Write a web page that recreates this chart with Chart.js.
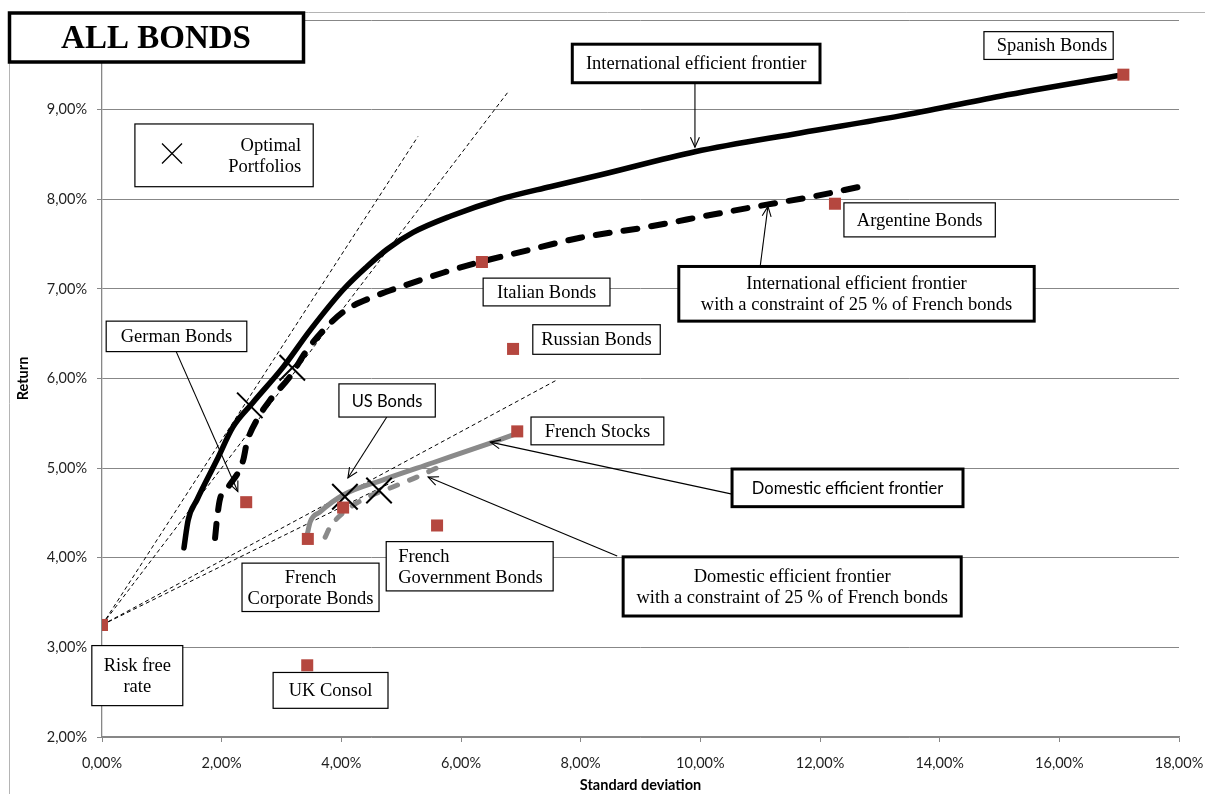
<!DOCTYPE html>
<html><head><meta charset="utf-8">
<script src="https://cdn.jsdelivr.net/npm/chart.js@4.4.1/dist/chart.umd.min.js"></script>
<style>html,body{margin:0;padding:0;background:#fff;}canvas{display:block;}</style>
</head><body>
<canvas id="c" width="1205" height="794"></canvas>
<script>
// ---------- DATA (standard deviation %, return %) ----------
const assetNames  = ['Risk free rate','German Bonds','French Corporate Bonds','US Bonds','French Government Bonds','UK Consol','French Stocks','Russian Bonds','Italian Bonds','Argentine Bonds','Spanish Bonds'];
const assetRisk   = [0.00, 2.41, 3.44, 4.03, 5.60, 3.43, 6.94, 6.87, 6.35, 12.25, 17.07];
const assetReturn = [3.25, 4.62, 4.21, 4.56, 4.36, 2.80, 5.41, 6.33, 7.30, 7.95, 9.39];

const intlRisk   = [1.37,1.44,1.59,1.92,2.19,2.52,3.03,3.48,4.03,4.43,4.76,5.20,5.82,6.65,7.49,8.32,9.91,11.67,13.34,15.01,17.07];
const intlReturn = [4.11,4.42,4.65,5.09,5.46,5.73,6.13,6.54,6.99,7.25,7.44,7.63,7.81,8.00,8.14,8.27,8.53,8.74,8.93,9.15,9.39];

const intlConsRisk   = [1.89,1.92,1.97,2.11,2.36,2.42,2.59,2.81,3.14,3.43,3.76,4.09,4.53,4.98,5.70,6.32,6.99,7.99,9.11,10.21,11.11,11.88,12.67];
const intlConsReturn = [4.22,4.42,4.65,4.79,5.09,5.28,5.54,5.76,6.02,6.32,6.58,6.77,6.91,7.02,7.18,7.30,7.41,7.57,7.69,7.83,7.94,8.03,8.14];

const domRisk   = [3.43,3.48,3.64,4.03,4.70,5.53,6.49,6.87];
const domReturn = [4.26,4.40,4.51,4.70,4.87,5.06,5.28,5.37];

const domConsRisk   = [3.73,3.81,4.03,4.36,4.86,5.26,5.62];
const domConsReturn = [4.23,4.34,4.50,4.65,4.79,4.90,5.01];

// Tangent (capital market) lines from the risk-free asset
const tangentIntlA = {risk:[0.00,5.28], ret:[3.25,8.70]};
const tangentIntlB = {risk:[0.00,6.79], ret:[3.25,9.20]};
const tangentDomA  = {risk:[0.00,7.62], ret:[3.25,5.99]};
const tangentDomB  = {risk:[0.00,4.93], ret:[3.25,4.87]};

const optRisk   = [2.47, 3.18, 4.06, 4.63];
const optReturn = [5.70, 6.12, 4.68, 4.75];

const xTicks = [0,2,4,6,8,10,12,14,16,18];
const yTicks = [2,3,4,5,6,7,8,9,10];

// ---------- helpers ----------
const pts = (xs, ys) => xs.map((v,i)=>({x:v, y:ys[i]}));
const pct = v => v.toFixed(2).replace('.', ',') + '%';
const SERIF = '"Liberation Serif","Times New Roman",serif';
const SANS  = 'Lato,"Open Sans",sans-serif';

// annotation boxes in data coordinates [left, top, right, bottom]
const annotations = [
  {text:['International efficient frontier'], box:[7.86,9.73,12.00,9.30], border:3, arrow:[9.91,9.30,9.91,8.58]},
  {text:['Spanish Bonds'], box:[14.74,9.87,16.90,9.56], align:'right', pad:6},
  {text:['Optimal','Portfolios'], box:[0.55,8.84,3.53,8.14], align:'right', pad:12, icon:[1.17,8.51]},
  {text:['Argentine Bonds'], box:[12.40,7.96,14.93,7.58]},
  {text:['International efficient frontier','with a constraint of 25 % of French bonds'], box:[9.64,7.25,15.58,6.64], border:3, arrow:[11.00,7.25,11.13,7.92]},
  {text:['Italian Bonds'], box:[6.37,7.12,8.49,6.81]},
  {text:['Russian Bonds'], box:[7.20,6.60,9.33,6.27]},
  {text:['German Bonds'], box:[0.07,6.64,2.42,6.30], arrow:[1.24,6.30,2.27,4.74]},
  {text:['US Bonds'], box:[3.96,5.94,5.57,5.57], sans:true, arrow:[4.76,5.57,4.11,4.89]},
  {text:['French Stocks'], box:[7.17,5.57,9.39,5.26]},
  {text:['Domestic efficient frontier'], box:[10.53,4.99,14.39,4.57], border:3, sans:true, arrow:[10.53,4.71,6.49,5.29]},
  {text:['Domestic efficient frontier','with a constraint of 25 % of French bonds'], box:[8.71,4.01,14.36,3.35], border:3, arrow:[8.61,4.02,5.45,4.90]},
  {text:['French','Government Bonds'], box:[4.75,4.18,7.54,3.63], align:'left', pad:12},
  {text:['French','Corporate Bonds'], box:[2.34,3.94,4.63,3.40]},
  {text:['Risk free','rate'], box:[-0.17,3.02,1.35,2.35]},
  {text:['UK Consol'], box:[2.86,2.72,4.78,2.32]}
];

function drawArrow(ctx, x1, y1, x2, y2) {
  ctx.beginPath(); ctx.moveTo(x1,y1); ctx.lineTo(x2,y2); ctx.stroke();
  const a = Math.atan2(y2-y1, x2-x1), L = 11, s = 0.42;
  ctx.beginPath();
  ctx.moveTo(x2 - L*Math.cos(a-s), y2 - L*Math.sin(a-s));
  ctx.lineTo(x2, y2);
  ctx.lineTo(x2 - L*Math.cos(a+s), y2 - L*Math.sin(a+s));
  ctx.stroke();
}

const framePlugin = {
  id: 'frame',
  beforeDraw(chart) {
    const ctx = chart.ctx;
    ctx.save();
    ctx.fillStyle = '#fff';
    ctx.fillRect(0,0,chart.width,chart.height);
    ctx.strokeStyle = '#b4b4b4';
    ctx.lineWidth = 1;
    ctx.beginPath();
    ctx.moveTo(9.5, 800); ctx.lineTo(9.5, 12.5); ctx.lineTo(1210, 12.5);
    ctx.stroke();
    ctx.restore();
  },
  afterDraw(chart) {
    const ctx = chart.ctx, sx = chart.scales.x, sy = chart.scales.y;
    const X = v => sx.getPixelForValue(v), Y = v => sy.getPixelForValue(v);
    ctx.save();
    annotations.forEach(a => {
      const l = X(a.box[0]), t = Y(a.box[1]), r = X(a.box[2]), b = Y(a.box[3]);
      ctx.strokeStyle = '#000'; ctx.lineWidth = 1.1;
      if (a.arrow) drawArrow(ctx, X(a.arrow[0]), Y(a.arrow[1]), X(a.arrow[2]), Y(a.arrow[3]));
      ctx.fillStyle = '#fff';
      ctx.fillRect(l, t, r-l, b-t);
      ctx.lineWidth = a.border || 1.2;
      ctx.strokeRect(l, t, r-l, b-t);
      ctx.fillStyle = '#000';
      ctx.font = a.sans ? '16.5px ' + SANS : '18.5px ' + SERIF;
      ctx.textBaseline = 'middle';
      let tx;
      if (a.align === 'right') { ctx.textAlign = 'right'; tx = r - a.pad; }
      else if (a.align === 'left') { ctx.textAlign = 'left'; tx = l + a.pad; }
      else { ctx.textAlign = 'center'; tx = (l + r) / 2; }
      const lh = 21, cy = (t + b) / 2;
      a.text.forEach((s, i) => {
        ctx.fillText(s, tx, cy + (i - (a.text.length - 1) / 2) * lh + 1);
      });
      if (a.icon) {
        const ix = X(a.icon[0]), iy = Y(a.icon[1]);
        ctx.lineWidth = 1.3;
        ctx.beginPath();
        ctx.moveTo(ix-10, iy-10); ctx.lineTo(ix+10, iy+10);
        ctx.moveTo(ix+10, iy-10); ctx.lineTo(ix-10, iy+10);
        ctx.stroke();
      }
    });
    // title box
    ctx.fillStyle = '#fff';
    ctx.fillRect(9, 12, 295, 50);
    ctx.strokeStyle = '#000'; ctx.lineWidth = 3.5;
    ctx.strokeRect(9.5, 13, 294, 49);
    ctx.fillStyle = '#000';
    ctx.font = 'bold 33px ' + SERIF;
    ctx.textAlign = 'center'; ctx.textBaseline = 'middle';
    ctx.fillText('ALL BONDS', 156, 39);
    ctx.restore();
  }
};

const GRID = '#878787';
const tickFont = {family: SANS, size: 14.5};
const curve = {showLine:true, pointRadius:0, cubicInterpolationMode:'monotone', borderCapStyle:'round', borderJoinStyle:'round'};

new Chart(document.getElementById('c'), {
  type: 'scatter',
  data: {
    datasets: [
      {label:'Assets', data: pts(assetRisk, assetReturn), pointStyle:'rect', pointRadius:8.5,
       backgroundColor:'#b5473f', borderWidth:0, order:0},
      {label:'Optimal Portfolios', data: pts(optRisk, optReturn), pointStyle:'crossRot', pointRadius:18,
       borderColor:'#000', borderWidth:2, order:1},
      {label:'Domestic efficient frontier', data: pts(domRisk, domReturn), ...curve,
       borderColor:'#8a8a8a', borderWidth:5, order:2},
      {label:'Domestic constrained', data: pts(domConsRisk, domConsReturn), ...curve,
       borderColor:'#8a8a8a', borderWidth:5, borderDash:[8,13], order:2},
      {label:'International efficient frontier', data: pts(intlRisk, intlReturn), ...curve,
       borderColor:'#000', borderWidth:5.5, order:3},
      {label:'International constrained', data: pts(intlConsRisk, intlConsReturn), ...curve,
       borderColor:'#000', borderWidth:6, borderDash:[14,14], order:3},
      ...[tangentIntlA, tangentIntlB, tangentDomA, tangentDomB].map((t,i) => ({
        label:'Tangent ' + (i+1), data: pts(t.risk, t.ret), showLine:true, pointRadius:0,
        borderColor:'#000', borderWidth:1, borderDash:[4,3], order:4
      }))
    ]
  },
  options: {
    responsive:false, animation:false, events:[],
    layout:{padding:{left:0, top:20, right:26, bottom:0}},
    plugins:{legend:{display:false}, tooltip:{enabled:false}},
    scales:{
      x:{type:'linear', min:0, max:18,
         afterBuildTicks: s => { s.ticks = xTicks.map(v => ({value:v})); },
         ticks:{callback: v => pct(v), font:tickFont, color:'#1f1f1f', padding:13, maxRotation:0},
         grid:{drawOnChartArea:false, drawTicks:true, tickLength:5, color:GRID},
         border:{color:GRID, width:1.3},
         title:{display:true, text:'Standard deviation', font:{family:SANS, size:14.5, weight:'bold'}, color:'#000', padding:0},
         afterFit: s => { s.height = 57; s.paddingLeft = 0; s.paddingRight = 0; }},
      y:{type:'linear', min:2, max:10,
         afterBuildTicks: s => { s.ticks = yTicks.map(v => ({value:v})); },
         ticks:{callback: v => pct(v), font:tickFont, color:'#1f1f1f', padding:10},
         grid:{drawOnChartArea:true, drawTicks:true, tickLength:5, color:GRID},
         border:{color:GRID, width:1.3},
         title:{display:true, text:'Return', font:{family:SANS, size:14.5, weight:'bold'}, color:'#000', padding:{top:15, bottom:0}},
         afterFit: s => { s.width = 102; s.paddingTop = 0; s.paddingBottom = 0; }}
    }
  },
  plugins:[framePlugin]
});
</script>
</body></html>
